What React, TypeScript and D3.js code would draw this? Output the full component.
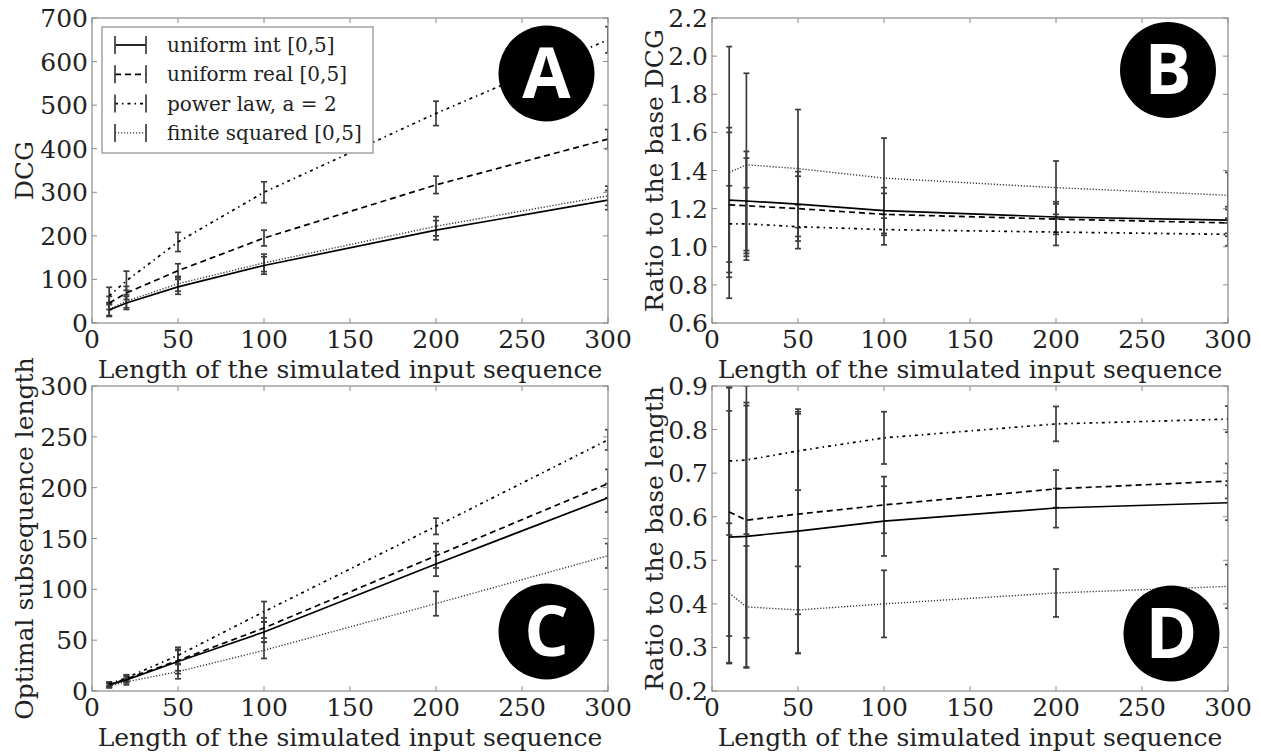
import React from "react";
import * as d3 from "d3";

// ---------------- data ----------------
const lengths = [10, 20, 50, 100, 200, 300];
const seriesLabels = ["uniform int [0,5]", "uniform real [0,5]", "power law, a = 2", "finite squared [0,5]"];

// Panel A: DCG
const dcgUniformInt = [30, 46, 83, 132, 213, 282];
const dcgUniformReal = [46, 69, 120, 195, 317, 422];
const dcgPowerLaw = [62, 97, 186, 300, 481, 650];
const dcgFiniteSquared = [32, 50, 90, 138, 222, 292];
const dcgUniformIntErr = [15, 15, 17, 20, 22, 22];
const dcgUniformRealErr = [15, 15, 16, 18, 20, 22];
const dcgPowerLawErr = [20, 22, 22, 24, 28, 30];
const dcgFiniteSquaredErr = [15, 15, 17, 20, 22, 22];

// Panel B: ratio to the base DCG
const ratioDcgUniformInt = [1.245, 1.24, 1.224, 1.19, 1.156, 1.14];
const ratioDcgUniformReal = [1.22, 1.215, 1.2, 1.17, 1.145, 1.125];
const ratioDcgPowerLaw = [1.12, 1.12, 1.105, 1.09, 1.077, 1.065];
const ratioDcgFiniteSquared = [1.39, 1.43, 1.41, 1.36, 1.31, 1.27];
const ratioDcgUniformIntErr = [0.38, 0.26, 0.17, 0.12, 0.08, 0.07];
const ratioDcgUniformRealErr = [0.38, 0.25, 0.17, 0.11, 0.08, 0.07];
const ratioDcgPowerLawErr = [0.2, 0.19, 0.115, 0.08, 0.07, 0.06];
const ratioDcgFiniteSquaredErr = [0.66, 0.48, 0.31, 0.21, 0.14, 0.12];

// Panel C: optimal subsequence length
const lenUniformInt = [6, 11, 29, 58, 125, 190];
const lenUniformReal = [6, 12, 30, 62, 133, 204];
const lenPowerLaw = [7, 13, 35, 78, 162, 247];
const lenFiniteSquared = [5, 9, 19, 40, 86, 133];
const lenUniformIntErr = [2, 3, 12, 10, 12, 14];
const lenUniformRealErr = [2, 3, 10, 10, 12, 14];
const lenPowerLawErr = [2, 3, 8, 10, 8, 10];
const lenFiniteSquaredErr = [2, 3, 7, 8, 12, 12];

// Panel D: ratio to the base length
const ratioLenUniformInt = [0.553, 0.555, 0.567, 0.59, 0.62, 0.632];
const ratioLenUniformReal = [0.611, 0.592, 0.606, 0.627, 0.664, 0.682];
const ratioLenPowerLaw = [0.728, 0.73, 0.751, 0.781, 0.813, 0.824];
const ratioLenFiniteSquared = [0.425, 0.393, 0.386, 0.4, 0.425, 0.44];
const ratioLenUniformIntErr = [0.29, 0.3, 0.28, 0.08, 0.045, 0.04];
const ratioLenUniformRealErr = [0.285, 0.27, 0.23, 0.065, 0.043, 0.04];
const ratioLenPowerLawErr = [0.17, 0.17, 0.09, 0.06, 0.04, 0.03];
const ratioLenFiniteSquaredErr = [0.16, 0.14, 0.1, 0.077, 0.055, 0.05];

// ticks
const xTicks = [0, 50, 100, 150, 200, 250, 300];
const dcgTicks = [0, 100, 200, 300, 400, 500, 600, 700];
const ratioDcgTicks = [0.6, 0.8, 1.0, 1.2, 1.4, 1.6, 1.8, 2.0, 2.2];
const lenTicks = [0, 50, 100, 150, 200, 250, 300];
const ratioLenTicks = [0.2, 0.3, 0.4, 0.5, 0.6, 0.7, 0.8, 0.9];

const xLabel = "Length of the simulated input sequence";

// ---------------- styles ----------------
const LINE_STYLES = [
  { dash: undefined as string | undefined, width: 1.7, color: "#000" },
  { dash: "6,4", width: 1.7, color: "#000" },
  { dash: "3,4,1.5,4", width: 1.7, color: "#000" },
  { dash: "1.2,1.8", width: 1.4, color: "#333" },
];
const SERIF = "'DejaVu Serif', serif";
const FRAME = "#8a8a8a";
const ERR_COLOR = "#3c3c3c";
const FS = 25;

type Box = { l: number; r: number; t: number; b: number };

function Panel(props: {
  id: string;
  box: Box;
  yDomain: [number, number];
  yTicks: number[];
  yFmt: (v: number) => string;
  values: number[][];
  errors: number[][];
  yLabel: string;
  yLabelX: number;
  badge: { letter: string; cx: number; cy: number };
  legend?: boolean;
}) {
  const { id, box, yDomain, yTicks, yFmt, values, errors, yLabel, yLabelX, badge, legend } = props;
  const x = d3.scaleLinear().domain([0, 300]).range([box.l, box.r]);
  const y = d3.scaleLinear().domain(yDomain).range([box.b, box.t]);
  const line = d3
    .line<number>()
    .x((_, i) => x(lengths[i]))
    .y((d) => y(d));
  const tickLen = 5;
  const clipId = `clip-${id}`;
  const cap = 3;

  return (
    <g>
      <defs>
        <clipPath id={clipId}>
          <rect x={box.l} y={box.t} width={box.r - box.l} height={box.b - box.t} />
        </clipPath>
      </defs>
      <g clipPath={`url(#${clipId})`}>
        {values.map((vals, si) =>
          vals.map((v, i) => {
            const e = errors[si][i];
            const px = x(lengths[i]);
            return (
              <g key={`e${si}-${i}`} stroke={ERR_COLOR} strokeWidth={1.7}>
                <line x1={px} x2={px} y1={y(v - e)} y2={y(v + e)} />
                <line x1={px - cap} x2={px + cap} y1={y(v - e)} y2={y(v - e)} />
                <line x1={px - cap} x2={px + cap} y1={y(v + e)} y2={y(v + e)} />
              </g>
            );
          })
        )}
        {values.map((vals, si) => (
          <path
            key={`l${si}`}
            d={line(vals) || ""}
            fill="none"
            stroke={LINE_STYLES[si].color}
            strokeWidth={LINE_STYLES[si].width}
            strokeDasharray={LINE_STYLES[si].dash}
          />
        ))}
      </g>
      {/* frame */}
      <rect x={box.l} y={box.t} width={box.r - box.l} height={box.b - box.t} fill="none" stroke={FRAME} strokeWidth={1.2} />
      {/* ticks */}
      {xTicks.map((t) => (
        <g key={`xt${t}`} stroke={FRAME} strokeWidth={1}>
          <line x1={x(t)} x2={x(t)} y1={box.b} y2={box.b - tickLen} />
          <line x1={x(t)} x2={x(t)} y1={box.t} y2={box.t + tickLen} />
        </g>
      ))}
      {yTicks.map((t) => (
        <g key={`yt${t}`} stroke={FRAME} strokeWidth={1}>
          <line x1={box.l} x2={box.l + tickLen} y1={y(t)} y2={y(t)} />
          <line x1={box.r} x2={box.r - tickLen} y1={y(t)} y2={y(t)} />
        </g>
      ))}
      {/* tick labels */}
      {xTicks.map((t) => (
        <text key={`xl${t}`} x={x(t)} y={box.b + 25} textAnchor="middle" fontFamily={SERIF} fontSize={FS} fill="#222">
          {t}
        </text>
      ))}
      {yTicks.map((t) => (
        <text key={`yl${t}`} x={box.l - 4} y={y(t) + 9} textAnchor="end" fontFamily={SERIF} fontSize={FS} fill="#222">
          {yFmt(t)}
        </text>
      ))}
      {/* axis labels */}
      <text x={(box.l + box.r) / 2} y={box.b + 55} textAnchor="middle" fontFamily={SERIF} fontSize={FS} fill="#222">
        {xLabel}
      </text>
      <text
        transform={`translate(${yLabelX},${(box.t + box.b) / 2}) rotate(-90)`}
        textAnchor="middle"
        fontFamily={SERIF}
        fontSize={FS}
        fill="#222"
      >
        {yLabel}
      </text>
      {/* legend */}
      {legend && (
        <g>
          <rect x={102} y={27} width={271} height={126} fill="#fff" stroke={FRAME} strokeWidth={1.2} />
          {seriesLabels.map((lab, i) => {
            const cy = 45 + i * 29.3;
            const st = LINE_STYLES[i];
            return (
              <g key={`lg${i}`}>
                <line x1={115} x2={146} y1={cy} y2={cy} stroke={st.color} strokeWidth={st.width} strokeDasharray={st.dash} />
                <line x1={115} x2={115} y1={cy - 9} y2={cy + 9} stroke={ERR_COLOR} strokeWidth={1.7} />
                <line x1={146} x2={146} y1={cy - 9} y2={cy + 9} stroke={ERR_COLOR} strokeWidth={1.7} />
                <text x={167} y={cy + 7} fontFamily={SERIF} fontSize={20} fill="#222">
                  {lab}
                </text>
              </g>
            );
          })}
        </g>
      )}
      {/* badge */}
      <circle cx={badge.cx} cy={badge.cy} r={48} fill="#000" />
      <text
        x={badge.cx}
        y={badge.cy + 24}
        textAnchor="middle"
        fontFamily="'Open Sans', 'DejaVu Sans', sans-serif"
        fontWeight={700}
        fontSize={70}
        fill="#fff"
      >
        {badge.letter}
      </text>
    </g>
  );
}

export default function App() {
  const W = 1261;
  const H = 752;
  const fmt0 = (v: number) => d3.format("d")(v);
  const fmt1 = (v: number) => d3.format(".1f")(v);
  return (
    <svg width={W} height={H} style={{ position: "absolute", left: 0, top: 0, background: "#fff" }}>
      <rect width={W} height={H} fill="#fff" />
      <Panel
        id="A"
        box={{ l: 92, r: 608, t: 18, b: 323 }}
        yDomain={[0, 700]}
        yTicks={dcgTicks}
        yFmt={fmt0}
        values={[dcgUniformInt, dcgUniformReal, dcgPowerLaw, dcgFiniteSquared]}
        errors={[dcgUniformIntErr, dcgUniformRealErr, dcgPowerLawErr, dcgFiniteSquaredErr]}
        yLabel="DCG"
        yLabelX={33}
        badge={{ letter: "A", cx: 546.5, cy: 73.5 }}
        legend
      />
      <Panel
        id="B"
        box={{ l: 712, r: 1228, t: 18, b: 323 }}
        yDomain={[0.6, 2.2]}
        yTicks={ratioDcgTicks}
        yFmt={fmt1}
        values={[ratioDcgUniformInt, ratioDcgUniformReal, ratioDcgPowerLaw, ratioDcgFiniteSquared]}
        errors={[ratioDcgUniformIntErr, ratioDcgUniformRealErr, ratioDcgPowerLawErr, ratioDcgFiniteSquaredErr]}
        yLabel="Ratio to the base DCG"
        yLabelX={663}
        badge={{ letter: "B", cx: 1168, cy: 70 }}
      />
      <Panel
        id="C"
        box={{ l: 92, r: 608, t: 386, b: 691 }}
        yDomain={[0, 300]}
        yTicks={lenTicks}
        yFmt={fmt0}
        values={[lenUniformInt, lenUniformReal, lenPowerLaw, lenFiniteSquared]}
        errors={[lenUniformIntErr, lenUniformRealErr, lenPowerLawErr, lenFiniteSquaredErr]}
        yLabel="Optimal subsequence length"
        yLabelX={33}
        badge={{ letter: "C", cx: 546.5, cy: 631.5 }}
      />
      <Panel
        id="D"
        box={{ l: 712, r: 1228, t: 386, b: 691 }}
        yDomain={[0.2, 0.9]}
        yTicks={ratioLenTicks}
        yFmt={fmt1}
        values={[ratioLenUniformInt, ratioLenUniformReal, ratioLenPowerLaw, ratioLenFiniteSquared]}
        errors={[ratioLenUniformIntErr, ratioLenUniformRealErr, ratioLenPowerLawErr, ratioLenFiniteSquaredErr]}
        yLabel="Ratio to the base length"
        yLabelX={663}
        badge={{ letter: "D", cx: 1171.5, cy: 633.5 }}
      />
    </svg>
  );
}
